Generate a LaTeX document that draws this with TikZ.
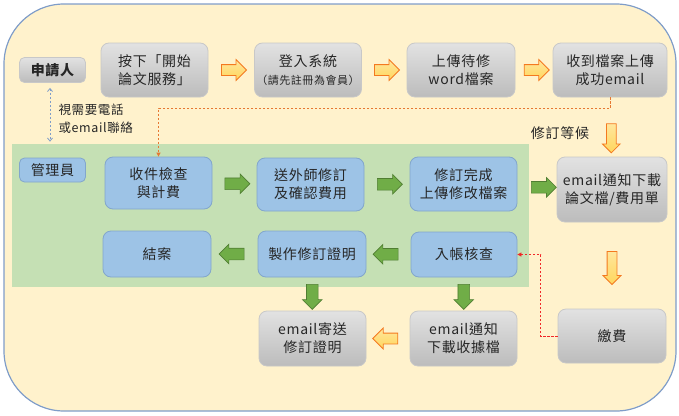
\documentclass[tikz,border=0pt]{standalone}
\usepackage{fontspec}
\setmainfont[LetterSpace=5]{Noto Sans CJK TC}
\usepackage{tikz}
\usetikzlibrary{shapes.arrows, calc, arrows.meta}
\definecolor{bgyellow}{RGB}{255,242,204}
\definecolor{bgframe}{RGB}{127,157,201}
\definecolor{admingreen}{RGB}{197,224,180}
\definecolor{boxblue}{RGB}{157,195,230}
\definecolor{boxblueline}{RGB}{130,166,204}
\definecolor{boxgreytop}{RGB}{226,226,226}
\definecolor{boxgreybot}{RGB}{188,188,188}
\definecolor{boxgreyline}{RGB}{200,200,200}
\definecolor{arrgreen}{RGB}{112,173,71}
\definecolor{arrgreenline}{RGB}{80,126,50}
\definecolor{arryellow}{RGB}{255,214,92}
\definecolor{arrorange}{RGB}{244,121,31}
\definecolor{linkorange}{RGB}{230,120,50}
\definecolor{linkred}{RGB}{240,40,40}
\definecolor{txtdark}{RGB}{38,38,38}
\tikzset{
	box/.style={rectangle, rounded corners=8pt, minimum width=107pt, minimum height=54pt, align=center, inner sep=0pt, text=txtdark, font=\fontsize{14}{18}\selectfont, line width=0.8pt},
	greybox/.style={box, top color=boxgreytop, bottom color=boxgreybot, draw=boxgreyline},
	bluebox/.style={box, fill=boxblue, draw=boxblueline},
	rolebox/.style={minimum width=66pt, minimum height=25pt, rounded corners=5pt},
}

\begin{document}
\begin{tikzpicture}[x=1pt, y=1pt, >=stealth]

	\tikzstyle{oarrow}=[single arrow, draw=arrorange, top color=arryellow!60!white, bottom color=arryellow, inner sep=5pt, single arrow head extend=5pt, minimum height=25pt, line width=0.8pt]
	\tikzstyle{garrow}=[single arrow, draw=arrgreenline, fill=arrgreen, inner sep=5.5pt, single arrow head extend=4pt, minimum height=25pt, line width=0.6pt]
	\tikzstyle{link}=[line width=0.8pt, dash pattern=on 2.5pt off 1.5pt]

	% background and admin area
	\useasboundingbox (0,0) rectangle (679,-415);
	\draw[bgframe, fill=bgyellow, line width=1.2pt, rounded corners=60pt] (4,-4) rectangle (676,-411);
	\fill[admingreen] (12,-144) rectangle (529,-287);

	% applicant row
	\node at (52.5,-70) (applicant) [greybox, rolebox, font=\fontsize{14}{18}\selectfont\bfseries] {申請人};
	\node at (154.5,-70) (start) [greybox] {按下「開始\\論文服務」};
	\node at (308,-70) (login) [greybox] {登入系統\\{\fontsize{11}{14}\selectfont （請先註冊為會員）}};
	\node at (461,-70) (upload) [greybox, minimum width=108pt] {上傳待修\\word檔案};
	\node at (610,-70) (received) [greybox, minimum width=114pt] {收到檔案上傳\\成功email};

	% admin rows
	\node at (52.5,-170) (admin) [bluebox, rolebox, minimum height=24pt] {管理員};
	\node at (158.5,-183) (check) [bluebox, minimum height=52pt] {收件檢查\\與計費};
	\node at (310.5,-184.5) (send) [bluebox, minimum height=53pt] {送外師修訂\\及確認費用};
	\node at (463.5,-184) (done) [bluebox] {修訂完成\\上傳修改檔案};
	\node at (612,-189.5) (notify) [greybox, minimum width=110pt, minimum height=65pt] {email通知下載\\論文檔/費用單};
	\node at (157,-254) (close) [bluebox, minimum width=108pt, minimum height=46pt] {結案};
	\node at (312,-254) (cert) [bluebox, minimum width=108pt, minimum height=46pt] {製作修訂證明};
	\node at (464,-254.5) (verify) [bluebox, minimum width=106pt, minimum height=45pt] {入帳核查};

	% bottom row
	\node at (612,-336) (pay) [greybox, minimum width=108pt] {繳費};
	\node at (312.5,-338.5) (mailcert) [greybox, minimum height=55pt] {email寄送\\修訂證明};
	\node at (463.5,-338.5) (receipt) [greybox, minimum height=55pt] {email通知\\下載收據檔};

	% labels
	\node at (55,-119) (contactlbl) [anchor=west, align=left, text=txtdark, font=\fontsize{12.5}{18}\selectfont] {視需要電話\\或email聯絡};
	\node at (560,-133) (waitlbl) [text=txtdark, font=\fontsize{14}{18}\selectfont] {修訂等候};

	% block arrows
	\node at ($(start.east)!0.5!(login.west)$) [oarrow] {};
	\node at ($(login.east)!0.5!(upload.west)$) [oarrow] {};
	\node at ($(upload.east)!0.5!(received.west)$) [oarrow] {};
	\node at ($(received.south)!0.65!(notify.north)$) [oarrow, shape border rotate=270, minimum height=29pt, inner sep=4.5pt, single arrow head extend=4pt] {};
	\node at ($(notify.south)!0.5!(pay.north)$) [oarrow, shape border rotate=270, minimum height=33pt, inner sep=4.5pt, single arrow head extend=4pt] {};
	\node at ($(receipt.west)!0.5!(mailcert.east)$) [oarrow, shape border rotate=180] {};
	\node at ($(check.east)!0.5!(send.west)$) [garrow] {};
	\node at ($(send.east)!0.5!(done.west)$) [garrow] {};
	\node at ($(done.east)!0.6!(notify.west)$) [garrow] {};
	\node at ($(cert.west)!0.5!(close.east)$) [garrow, shape border rotate=180] {};
	\node at ($(verify.west)!0.5!(cert.east)$) [garrow, shape border rotate=180] {};
	\node at ($(cert.south)!0.5!(mailcert.north)$) [garrow, shape border rotate=270] {};
	\node at ($(verify.south)!0.5!(receipt.north)$) [garrow, shape border rotate=270] {};

	% dashed links
	\draw[link, linkorange, -{Triangle[length=4pt, width=4pt]}] (received.south) -- ++(0,-11) -| (check.north);
	\draw[link, bgframe, {Straight Barb[length=3pt, width=5pt]}-{Straight Barb[length=3pt, width=5pt]}] ([xshift=-2.5pt, yshift=-5pt]applicant.south) -- ([xshift=-2.5pt, yshift=16pt]admin.north);
	\draw[link, linkred, -{Triangle[length=4pt, width=4pt]}] (pay.west) -- ++(-17,0) |- (verify.east);

\end{tikzpicture}
\end{document}
